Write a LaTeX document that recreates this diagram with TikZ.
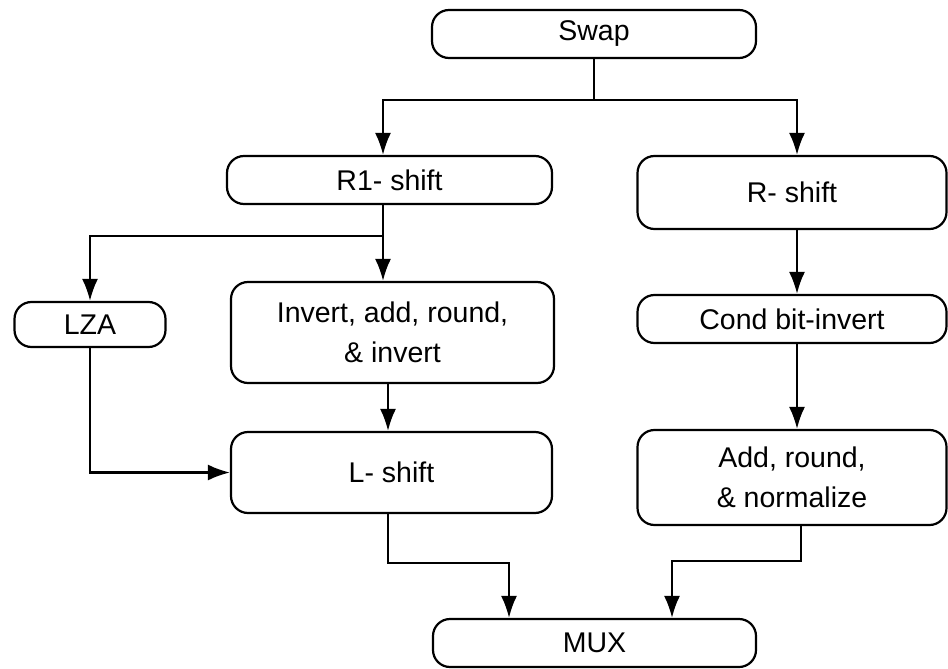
\documentclass[tikz,border=0pt]{standalone}
\usepackage{fontspec}
\setmainfont{Liberation Sans}
\usepackage{tikz}
\usetikzlibrary{arrows.meta}
\tikzset{>={Latex[length=22pt,width=16pt]}}
\tikzset{box/.style={draw,line width=2.2pt,rounded corners=17pt,inner sep=0pt,align=center,font=\fontsize{28.5}{40}\selectfont}}

\begin{document}
\begin{tikzpicture}[x=1pt,y=-1pt,line width=2.2pt]
	\useasboundingbox (0,0) rectangle (948,669);
	\node[box,minimum width=324,minimum height=48] (swap) at (594,34) {Swap};
	\node[box,minimum width=325,minimum height=48] (rone) at (389.5,180) {R1- shift};
	\node[box,minimum width=309,minimum height=73] (rshift) at (792,192.5) {R- shift};
	\node[box,minimum width=151,minimum height=45] (lza) at (90,324.5) {LZA};
	\node[box,minimum width=323,minimum height=101] (inv) at (392.5,332.5) {Invert, add, round,\\ \& invert};
	\node[box,minimum width=309,minimum height=48] (cond) at (792,319) {Cond bit-invert};
	\node[box,minimum width=321,minimum height=81] (lshift) at (391.5,472.5) {L- shift};
	\node[box,minimum width=309,minimum height=95] (add) at (792,477.5) {Add, round,\\ \& normalize};
	\node[box,minimum width=323,minimum height=48] (mux) at (594.5,643) {MUX};

	\coordinate (split) at (594,100);
	\coordinate (fork) at (383,236);
	\draw (swap.south) -- (split);
	\draw[->] (split) -| ([xshift=-6.5]rone.north);
	\draw[->] (split) -| ([xshift=5]rshift.north);
	\draw ([xshift=-6.5]rone.south) -- (fork);
	\draw[->] (fork) -| (lza.north);
	\draw[->] (fork) -- (fork |- inv.north);
	\draw[->] ([xshift=-4.5]inv.south) -- ([xshift=-4.5]inv.south |- lshift.north);
	\draw[->] (lza.south) |- (lshift.west);
	\draw[->] ([xshift=5]rshift.south) -- ([xshift=5]cond.north);
	\draw[->] ([xshift=5]cond.south) -- ([xshift=5]add.north);
	\draw[->] ([xshift=-3.5]lshift.south) -- ++(0,49) -| ([xshift=-85.5]mux.north);
	\draw[->] ([xshift=9]add.south) -- ++(0,35) -| ([xshift=77.5]mux.north);
\end{tikzpicture}
\end{document}
